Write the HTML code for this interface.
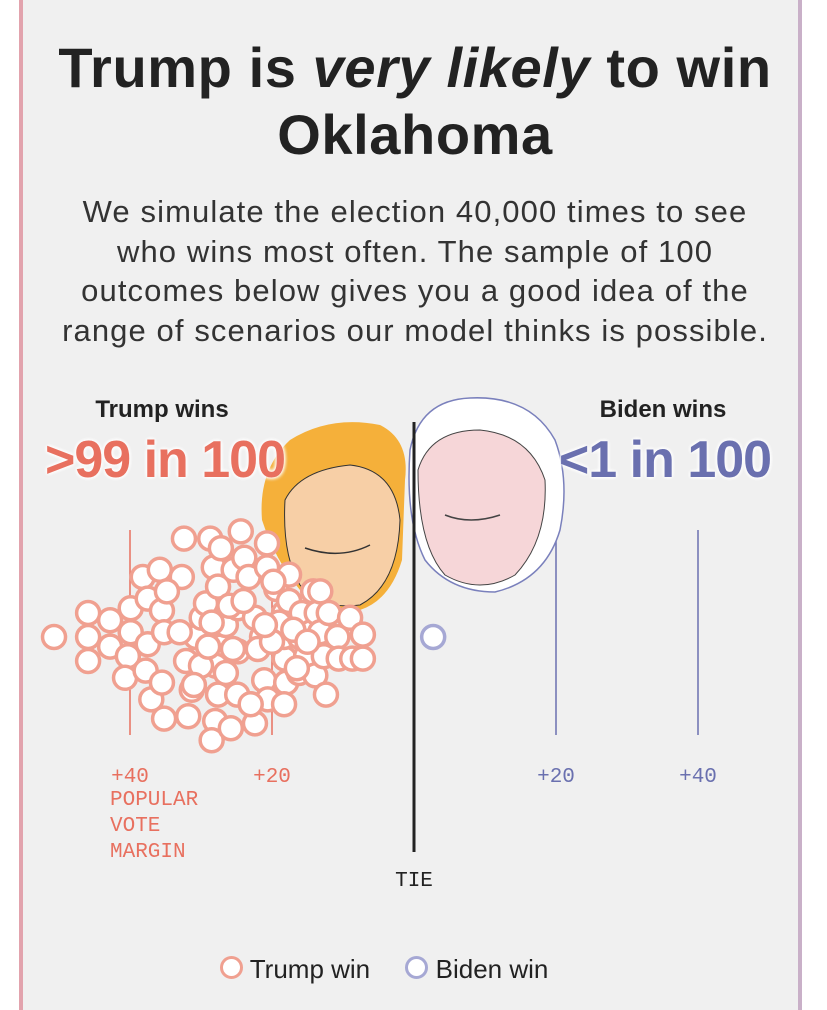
<!DOCTYPE html>
<html><head><meta charset="utf-8">
<style>
html,body{margin:0;padding:0;background:#fff;}
body{width:827px;height:992px;position:relative;overflow:hidden;font-family:"Liberation Sans",sans-serif;}
#card{position:absolute;left:19px;top:-10px;width:775px;height:1020px;background:#f0f0f0;border-left:4px solid #e2a3ad;border-right:4px solid #c9b0c8;}
.t{position:absolute;text-align:center;color:#222;}
.mono{font-family:"Liberation Mono","DejaVu Sans Mono",monospace;}
</style></head><body>
<div id="card"></div>
<div class="t" style="left:10px;width:810px;top:34px;font-size:56px;font-weight:bold;line-height:67px;letter-spacing:0.6px;white-space:nowrap;">Trump is <i>very likely</i> to win<br>Oklahoma</div>
<div class="t" style="left:10px;width:810px;top:192px;font-size:31px;line-height:39.7px;letter-spacing:1.1px;color:#333;white-space:nowrap;">We simulate the election 40,000 times to see<br>who wins most often. The sample of 100<br>outcomes below gives you a good idea of the<br>range of scenarios our model thinks is possible.</div>
<svg id="chart" width="827" height="992" style="position:absolute;left:0;top:0;">
<g id="faces">
 <path d="M262,520 Q258,470 290,440 Q330,415 380,425 Q410,440 405,480 L402,560 Q390,600 360,610 Q320,612 300,590 Q275,560 262,520Z" fill="#f5b03a"/>
 <path d="M285,500 Q300,470 350,465 Q395,470 400,520 Q398,585 360,605 Q320,610 300,585 Q282,555 285,500Z" fill="#f7cfa6" stroke="#333" stroke-width="1"/>
 <path d="M305,548 Q340,560 370,545" stroke="#333" fill="none" stroke-width="1.5"/>
 <path d="M410,450 Q420,400 470,398 Q530,395 555,440 Q570,480 560,530 Q545,580 495,592 Q450,592 425,560 Q405,520 410,450Z" fill="#fff" stroke="#7a80bc" stroke-width="1.5"/>
 <path d="M418,470 Q430,430 480,430 Q530,435 545,480 Q548,540 515,575 Q480,595 445,575 Q418,545 418,470Z" fill="#f6d6d8" stroke="#444" stroke-width="1"/>
 <path d="M445,515 Q470,525 500,515" stroke="#444" fill="none" stroke-width="1.5"/>
</g>
</svg>
<div class="t" style="left:62px;width:200px;top:396px;font-size:24px;font-weight:bold;">Trump wins</div>
<div class="t" style="left:10px;width:310px;top:430px;font-size:52px;font-weight:bold;color:#e8705f;letter-spacing:-1px;text-shadow:0 0 4px #fff,0 0 4px #fff,0 0 4px #fff;">&gt;99 in 100</div>
<div class="t" style="left:563px;width:200px;top:396px;font-size:24px;font-weight:bold;">Biden wins</div>
<div class="t" style="left:540px;width:250px;top:430px;font-size:52px;font-weight:bold;color:#6a70af;letter-spacing:-1px;text-shadow:0 0 4px #fff,0 0 4px #fff,0 0 4px #fff;">&lt;1 in 100</div>
<div class="t mono" style="left:110px;top:788px;font-size:21px;line-height:26px;text-align:left;color:#e8705f;">POPULAR<br>VOTE<br>MARGIN</div>
<div class="t mono" style="left:374px;width:80px;top:870px;font-size:21px;">TIE</div>
<div style="position:absolute;left:220px;top:954px;font-size:26px;color:#222;white-space:nowrap;">
 <span><span style="display:inline-block;width:17px;height:17px;border:3px solid #f0a090;border-radius:50%;background:#fff;vertical-align:-1px;"></span> Trump win</span>
 <span style="margin-left:28px;"><span style="display:inline-block;width:17px;height:17px;border:3px solid #a6a8d4;border-radius:50%;background:#fff;vertical-align:-1px;"></span> Biden win</span>
</div>
<script>
// Margins (positive = Trump lead, negative = Biden lead)
const margins=[50.7,45.9,45.9,45.9,42.8,42.8,39.9,39.9,40.3,40.7,38.2,37.5,37.5,37.8,37.0,35.8,35.5,35.2,35.5,35.2,32.7,34.8,32.1,31.3,31.8,32.4,30.7,29.9,29.3,28.7,28.2,27.6,27.2,27.9,27.6,28.0,28.5,27.2,26.5,25.8,25.4,24.8,24.8,24.9,24.4,23.9,23.3,22.4,22.4,21.1,20.6,21.4,20.7,20.7,19.4,18.3,18.2,18.0,18.3,18.3,17.6,17.6,16.2,15.8,16.1,15.2,14.2,14.5,13.7,13.2,13.9,12.7,12.4,13.2,12.0,10.8,10.6,9.0,8.7,7.2,7.2,30.0,26.0,22.0,19.0,16.5,24.0,20.0,33.0,29.0,31.0,23.0,21.0,26.5,19.8,17.0,15.0,28.5,25.5,-2.7];
// Vertical swarm offsets (dot units)
const swarm=[0,-1,0,1,-0.7,0.4,-1.2,-0.2,0.8,1.7,-2.5,-1.6,0.3,1.4,2.6,-2.8,-1.1,-0.2,1.9,3.4,-2.5,-1.9,1,2.2,3.3,-4.1,0,-0.8,-1.4,-4.1,-2.9,-2.1,0.4,1.2,2.4,3.5,4.3,-3.7,-0.5,3.8,-2.8,-1.2,0.6,2.4,-4.4,-3.3,-2.5,-0.8,3.6,1.8,2.6,0,-3.9,-2.9,-2.0,-1.0,0.9,1.9,2.8,0,-2.6,-1.5,1.5,-1,0,0.8,-1.9,-0.2,-1.0,-1.9,1.6,0.8,2.4,-0.2,-1.0,0,0.9,-0.8,0.9,-0.1,0.9,1.2,-1.3,0.5,-0.6,1.3,-1.5,0.2,-0.2,0.4,2.0,2.8,-0.5,1.5,-2.3,-0.3,0.2,-0.6,0.5,0];
const trumpTicks=["+40","+20"];
const trumpTickVals=[40,20];
const bidenTicks=["+20","+40"];
const bidenTickVals=[-20,-40];
const svg=document.getElementById('chart');
const NS='http://www.w3.org/2000/svg';
const x0=414,pxPer=7.1,yc=637,unit=24;
function xScale(m){return x0-m*pxPer;}
function yScale(s){return yc+s*unit;}
function mk(t,a){const e=document.createElementNS(NS,t);for(const k in a)e.setAttribute(k,a[k]);return e;}
const faces=document.getElementById('faces');
trumpTickVals.forEach((v,i)=>{
 const l=mk('line',{x1:xScale(v),x2:xScale(v),y1:530,y2:735,stroke:'#e8705f','stroke-width':1.5});
 
 
 svg.insertBefore(l,faces);
 const t=mk('text',{x:xScale(v),y:782,'text-anchor':'middle','font-size':21,fill:'#e8705f','font-family':'Liberation Mono, monospace'});
 t.textContent=trumpTicks[i];
 
 
 svg.appendChild(t);
});
bidenTickVals.forEach((v,i)=>{
 const l=mk('line',{x1:xScale(v),x2:xScale(v),y1:530,y2:735,stroke:'#6a70af','stroke-width':1.5});
 
 
 svg.insertBefore(l,faces);
 const t=mk('text',{x:xScale(v),y:782,'text-anchor':'middle','font-size':21,fill:'#6a70af','font-family':'Liberation Mono, monospace'});
 t.textContent=bidenTicks[i];
 
 
 svg.appendChild(t);
});
const tie=mk('line',{x1:xScale(0),x2:xScale(0),y1:422,y2:852,stroke:'#222','stroke-width':3});


svg.appendChild(tie);
margins.forEach((m,i)=>{
 const c=mk('circle',{cx:xScale(m),cy:yScale(swarm[i]),r:11.5,fill:'#fff',stroke:m>0?'#f0a090':'#a6a8d4','stroke-width':3.5});
 
 
 svg.appendChild(c);
});
</script>
</body></html>
